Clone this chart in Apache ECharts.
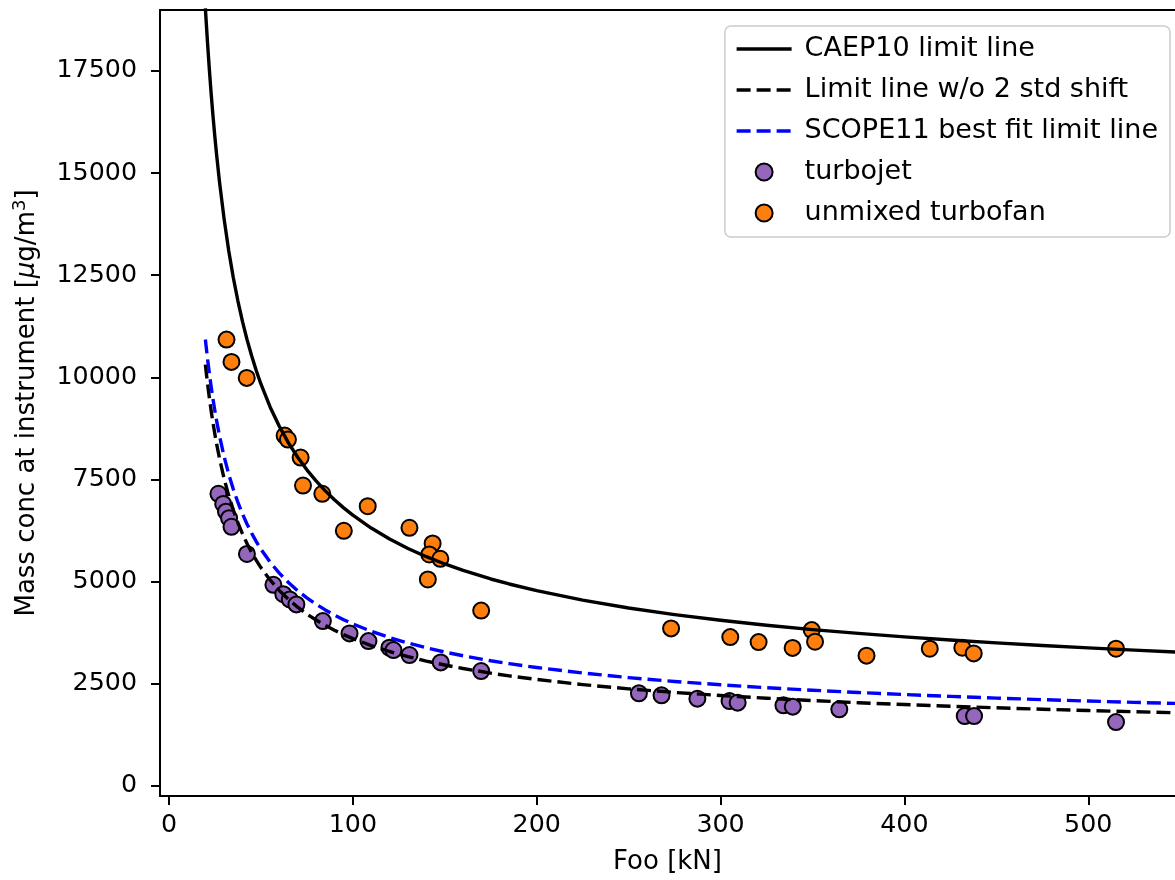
<!DOCTYPE html>
<html>
<head>
<meta charset="utf-8">
<title>Mass concentration vs Foo</title>
<script src="https://cdn.jsdelivr.net/npm/echarts@6/dist/echarts.min.js"></script>
<style>
  html, body { margin: 0; padding: 0; background: #ffffff; }
  #chart { width: 1175px; height: 880px; }
</style>
</head>
<body>
<div id="chart"></div>
<script>
// Foo [kN] sample positions along the limit curves
const curveX = [19.8, 20, 21, 22, 23, 24, 25, 26, 27.5, 30, 32.5, 35, 37.5, 40, 42.5, 45, 47.5, 50, 55, 60,
  65, 70, 75, 80, 85, 90, 95, 100, 110, 120, 130, 140, 150, 160, 175, 185, 200, 225, 250, 275,
  300, 325, 350, 375, 400, 425, 450, 475, 500, 525, 550];
// CAEP10 limit line
const caep10 = [19034, 18884, 18165, 17513, 16914, 16368, 15866, 15405, 14777, 13870, 13098, 12436, 11866, 11360, 10916, 10519, 10160, 9836, 9274, 8800,
  8394, 8042, 7735, 7463, 7219, 7002, 6803, 6624, 6309, 6040, 5810, 5608, 5430, 5271, 5062, 4940, 4776, 4545, 4353, 4191,
  4052, 3931, 3824, 3730, 3644, 3567, 3498, 3434, 3375, 3321, 3271];
// Limit line without the 2 std shift
const noShift = [10310, 10226, 9838, 9486, 9162, 8868, 8597, 8350, 8008, 7519, 7104, 6748, 6438, 6166, 5925, 5711, 5517, 5341, 5038, 4781,
  4562, 4371, 4205, 4058, 3926, 3808, 3701, 3603, 3433, 3287, 3162, 3053, 2957, 2870, 2757, 2691, 2603, 2477, 2373, 2285,
  2210, 2144, 2086, 2034, 1988, 1946, 1909, 1874, 1842, 1812, 1785];
// SCOPE11 best fit limit line
const scope11 = [10925, 10842, 10442, 10082, 9751, 9448, 9168, 8914, 8563, 8057, 7627, 7258, 6937, 6654, 6403, 6180, 5977, 5794, 5475, 5206,
  4975, 4775, 4600, 4444, 4305, 4180, 4066, 3963, 3782, 3627, 3494, 3378, 3274, 3183, 3061, 2990, 2895, 2760, 2648, 2554,
  2473, 2401, 2339, 2283, 2233, 2188, 2147, 2109, 2074, 2042, 2013];

// turbojet engines
const turbojetX = [26.9, 29.5, 31.0, 32.7, 34.0, 42.4, 56.8, 62.2, 65.7, 69.3, 83.7, 98.2, 108.5, 119.9, 122.1, 130.8, 147.8, 169.8, 255.6, 267.9, 287.4, 304.9, 309.3, 334.2, 339.3, 364.6, 432.8, 437.9, 515.1];
const turbojetY = [7147, 6900, 6710, 6550, 6340, 5675, 4920, 4690, 4562, 4440, 4031, 3730, 3542, 3380, 3322, 3200, 3020, 2808, 2263, 2214, 2133, 2074, 2035, 1969, 1937, 1871, 1707, 1707, 1561];

// unmixed turbofan engines
const turbofanX = [31.3, 34.0, 42.3, 62.9, 64.7, 71.6, 72.9, 83.4, 95.1, 108.1, 130.8, 143.4, 141.6, 147.6, 140.8, 169.8, 273.1, 305.3, 320.7, 339.2, 349.6, 351.4, 379.4, 413.8, 431.5, 437.7, 515.1];
const turbofanY = [10922, 10376, 9985, 8573, 8475, 8035, 7350, 7147, 6242, 6844, 6316, 5932, 5662, 5557, 5051, 4288, 3852, 3640, 3517, 3375, 3811, 3527, 3185, 3356, 3380, 3241, 3356];

// axis ticks
const xTicks = [0, 100, 200, 300, 400, 500];
const yTicks = [0, 2500, 5000, 7500, 10000, 12500, 15000, 17500];

const zip = (xs, ys) => xs.map((x, i) => [x, ys[i]]);

const FONT = 'DejaVu Sans';
const DASH = [14, 6];
const LINE_W = 3.4;
const chart = echarts.init(document.getElementById('chart'), null, { renderer: 'canvas' });

const lineSeries = (name, ys, color, type) => ({
  name: name,
  type: 'line',
  data: zip(curveX, ys),
  symbol: 'none',
  showSymbol: false,
  smooth: false,
  clip: true,
  z: 3,
  lineStyle: { color: color, width: LINE_W, type: type, cap: 'butt', join: 'round' },
  itemStyle: { color: color },
  emphasis: { disabled: true }
});

const scatterSeries = (name, xs, ys, color) => ({
  name: name,
  type: 'scatter',
  data: zip(xs, ys),
  symbol: 'circle',
  symbolSize: 16,
  z: 2,
  itemStyle: { color: color, borderColor: '#000000', borderWidth: 2, opacity: 1 },
  emphasis: { disabled: true }
});

// legend entry for a curve: the line only, no marker in the middle
const lineLegend = (name, color, type) => ({
  name: name,
  itemStyle: { color: 'rgba(0,0,0,0)', borderWidth: 0, opacity: 0 },
  lineStyle: { color: color, width: LINE_W, type: type, opacity: 1 }
});

const plain = v => String(v);

chart.setOption({
  animation: false,
  backgroundColor: '#ffffff',
  textStyle: { fontFamily: FONT, color: '#000000' },
  grid: { left: 160, top: 10, right: -3, bottom: 83, containLabel: false },
  xAxis: [
    {
      type: 'value',
      min: -4.88,
      max: 547.18,
      name: 'Foo [kN]',
      nameLocation: 'middle',
      nameGap: 53,
      nameTextStyle: { fontFamily: FONT, fontSize: 26, color: '#000000' },
      splitLine: { show: false },
      axisLine: { show: true, onZero: false, lineStyle: { color: '#000000', width: 2 } },
      axisTick: { show: true, length: 9, lineStyle: { color: '#000000', width: 2 }, customValues: xTicks },
      axisLabel: { fontFamily: FONT, fontSize: 25.3, color: '#000000', margin: 17, customValues: xTicks, formatter: plain }
    },
    {
      type: 'value',
      position: 'top',
      min: -4.88,
      max: 547.18,
      splitLine: { show: false },
      axisLine: { show: true, onZero: false, lineStyle: { color: '#000000', width: 2 } },
      axisTick: { show: false },
      axisLabel: { show: false }
    }
  ],
  yAxis: {
    type: 'value',
    min: -250,
    max: 18990,
    name: '{t|Mass conc at instrument [}{mu|μ}{t|g/m}{sup|3}{t|]}',
    nameLocation: 'middle',
    nameRotate: 90,
    nameGap: 117,
    nameTextStyle: {
      fontFamily: FONT,
      color: '#000000',
      rich: {
        t: { fontFamily: FONT, fontSize: 26, lineHeight: 32, color: '#000000' },
        mu: { fontFamily: FONT, fontSize: 26, lineHeight: 32, fontStyle: 'italic', color: '#000000' },
        sup: { fontFamily: FONT, fontSize: 18, lineHeight: 20, verticalAlign: 'top', color: '#000000' }
      }
    },
    splitLine: { show: false },
    axisLine: { show: true, onZero: false, lineStyle: { color: '#000000', width: 2 } },
    axisTick: { show: true, length: 9, lineStyle: { color: '#000000', width: 2 }, customValues: yTicks },
    axisLabel: { fontFamily: FONT, fontSize: 25.3, color: '#000000', margin: 23, customValues: yTicks, formatter: plain }
  },
  legend: {
    orient: 'vertical',
    right: 5,
    top: 26,
    padding: [8, 12, 9, 10],
    itemGap: 11,
    itemWidth: 55,
    itemHeight: 17,
    backgroundColor: 'rgba(255,255,255,0.85)',
    borderColor: '#cccccc',
    borderWidth: 1.5,
    borderRadius: 6,
    selectedMode: false,
    textStyle: { fontFamily: FONT, fontSize: 27, color: '#000000', lineHeight: 30, padding: [0, 0, 0, 8] },
    data: [
      lineLegend('CAEP10 limit line', '#000000', 'solid'),
      lineLegend('Limit line w/o 2 std shift', '#000000', DASH),
      lineLegend('SCOPE11 best fit limit line', '#0000ff', DASH),
      { name: 'turbojet' },
      { name: 'unmixed turbofan' }
    ]
  },
  series: [
    scatterSeries('turbojet', turbojetX, turbojetY, '#9467bd'),
    scatterSeries('unmixed turbofan', turbofanX, turbofanY, '#ff7f0e'),
    lineSeries('CAEP10 limit line', caep10, '#000000', 'solid'),
    lineSeries('Limit line w/o 2 std shift', noShift, '#000000', DASH),
    lineSeries('SCOPE11 best fit limit line', scope11, '#0000ff', DASH)
  ]
});
</script>
</body>
</html>
